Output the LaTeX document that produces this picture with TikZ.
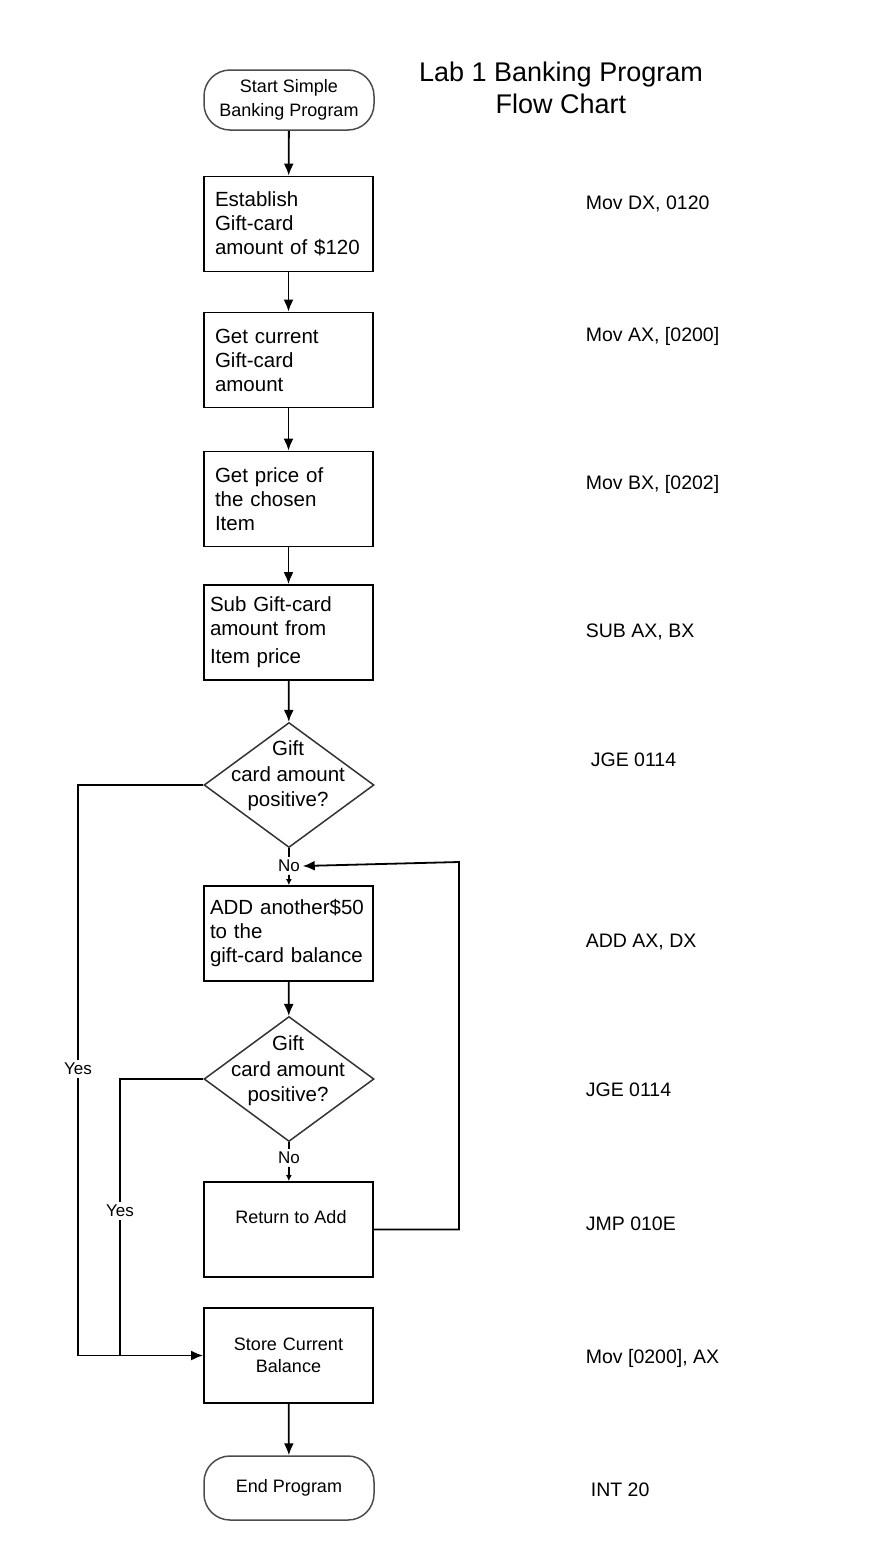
\documentclass[tikz,border=0pt]{standalone}
\usepackage{fontspec}
\setmainfont{Liberation Sans}
\usetikzlibrary{shapes.geometric,arrows.meta}

\newcommand{\procfont}{\fontsize{20.5}{24}\selectfont}
\newcommand{\termfont}{\fontsize{18}{24}\selectfont}
\newcommand{\codefont}{\fontsize{19.5}{24}\selectfont}
\newcommand{\titlefont}{\fontsize{27}{32}\selectfont}

\begin{document}
\begin{tikzpicture}[x=1pt, y=-1pt, line width=1.8pt, >={Latex[length=12pt, width=10pt]},
    process/.style={rectangle, draw, minimum width=169pt, minimum height=95pt, text width=147pt, inner xsep=11pt, align=left, font=\procfont},
    terminal/.style={rectangle, rounded corners=26pt, draw=black!70, line width=1.5pt, minimum width=170pt, minimum height=60pt, align=center, font=\termfont},
    decision/.style={diamond, draw=black!80, line width=1.5pt, minimum width=170pt, minimum height=125pt, inner sep=0pt},
    question/.style={align=center, font=\fontsize{20.5}{25.5}\selectfont},
    code/.style={anchor=west, inner sep=0pt, font=\codefont},
    branch/.style={inner sep=2pt, font=\fontsize{17}{20}\selectfont},
    smallflow/.style={-{Latex[length=6pt, width=6pt]}}]
    \useasboundingbox (0,0) rectangle (882,1550);

    % Title
    \node[align=center, font=\titlefont] (title) at (561,88) {Lab 1 Banking Program\\Flow Chart};

    % Flow chart
    \node[terminal] (start) at (289,100) {Start Simple\\Banking Program};
    \node[process] (gift) at (288.5,224) {Establish\\Gift-card\\amount of \$120};
    \node[process] (current) at (288.5,360) {Get current\\Gift-card\\amount};
    \node[process] (price) at (288.5,499) {Get price of\\the chosen\\Item};
    \node[process, inner xsep=6pt, text width=157pt] (sub) at (288.5,632.5) {Sub Gift-card\\amount from\\[4pt]Item price};
    \node[decision] (dec1) at (289,785) {};
    \node[question] (dec1txt) at (288,776) {Gift\\card amount\\positive?};
    \node[branch] (no1) at (289,866) {No};
    \node[process, inner xsep=6pt, text width=157pt] (add) at (288.5,933.5) {ADD another\$50\\to the\\gift-card balance};
    \node[decision] (dec2) at (289,1079) {};
    \node[question] (dec2txt) at (288,1071) {Gift\\card amount\\positive?};
    \node[branch] (no2) at (289,1158) {No};
    \node[process] (rtn) at (288.5,1229.5) {};
    \node[font=\termfont] (rtntxt) at (291,1217) {Return to Add};
    \node[process, align=center, font=\fontsize{18}{22}\selectfont] (store) at (288.5,1355.5) {Store Current\\Balance};
    \node[terminal, minimum height=64pt] (end) at (289,1488) {End Program};

    % Yes labels
    \node[branch] (yes1) at (78,1069) {Yes};
    \node[branch] (yes2) at (120,1211) {Yes};
    \coordinate (loop) at (459,862);

    % Assembly code
    \foreach \x/\y/\txt [count=\i] in {585/204/{Mov DX, 0120}, 585/336/{Mov AX, [0200]}, 585/484/{Mov BX, [0202]}, 585/632/{SUB AX, BX}, 590/760/{JGE 0114}, 585/942/{ADD AX, DX}, 585/1090/{JGE 0114}, 585/1224/{JMP 010E}, 585/1358/{Mov [0200], AX}, 590/1490/{INT 20}} {
        \node[code] (ASM\i) at (\x,\y) {\txt};
    }

    % Connections
    \draw[->] (start) -- (gift);
    \draw[->] (gift) -- (current);
    \draw[->] (current) -- (price);
    \draw[->] (price) -- (sub);
    \draw[->] (sub) -- (dec1);
    \draw (dec1) -- (no1);
    \draw[smallflow] (no1) -- (add);
    \draw[->] (add) -- (dec2);
    \draw (dec2) -- (no2);
    \draw[smallflow] (no2) -- (rtn);
    \draw[->] (rtn.east) -| (loop) -- (no1.east);
    \draw (dec1.west) -| (yes1);
    \draw[->] (yes1) |- (store.west);
    \draw (dec2.west) -| (yes2);
    \draw (yes2) -- (yes2 |- store.west);
    \draw[->] (store) -- (end);
\end{tikzpicture}
\end{document}
